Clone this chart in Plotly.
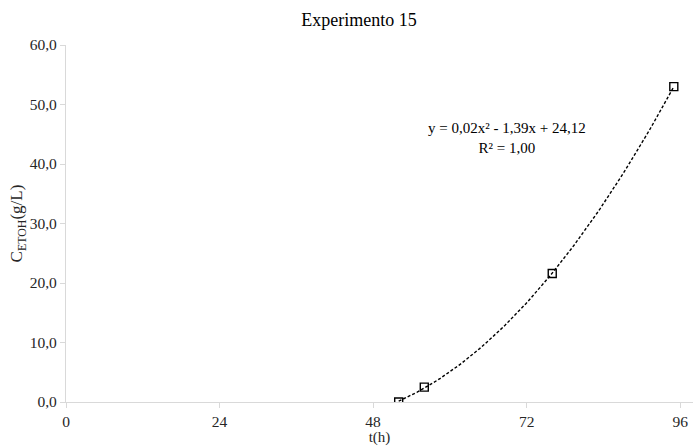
import numpy as np
import plotly.graph_objects as go

# Measured ethanol concentration over time
t_h = [52, 56, 76, 95]
c_etoh = [0.0, 2.5, 21.6, 53.0]

x_ticks = [0, 24, 48, 72, 96]
x_tick_text = ["0", "24", "48", "72", "96"]
y_ticks = [0, 10, 20, 30, 40, 50, 60]
y_tick_text = ["0,0", "10,0", "20,0", "30,0", "40,0", "50,0", "60,0"]

equation_text = "y = 0,02x² - 1,39x + 24,12<br>R² = 1,00"

# Second-order polynomial trendline through the measurements
coef = np.polyfit(t_h, c_etoh, 2)
t_fit = np.linspace(min(t_h), max(t_h), 120)
c_fit = np.polyval(coef, t_fit)

FONT = "Liberation Serif, Times New Roman, serif"
TEXT_COLOR = "#262626"

fig = go.Figure()
fig.add_trace(go.Scatter(
    x=t_fit, y=c_fit, mode="lines",
    line=dict(color="black", width=1.4, dash="3px,2px"),
    hoverinfo="skip", showlegend=False,
))
fig.add_trace(go.Scatter(
    x=t_h, y=c_etoh, mode="markers",
    marker=dict(symbol="square-open", size=8, color="black",
                line=dict(color="black", width=1.4)),
    showlegend=False,
))

# Trendline equation label
fig.add_annotation(
    x=0.703, y=0.739, xref="paper", yref="paper", text=equation_text,
    showarrow=False, font=dict(family=FONT, size=15, color="black"),
    align="center", xanchor="center", yanchor="middle",
)

fig.update_layout(
    template="none",
    width=697, height=446,
    margin=dict(l=66, r=4, t=45, b=44, pad=0),
    paper_bgcolor="white", plot_bgcolor="white",
    font=dict(family=FONT, size=15, color=TEXT_COLOR),
    title=dict(text="Experimento 15", x=0.515, xanchor="center",
               y=0.955, yanchor="middle",
               font=dict(family=FONT, size=18, color="black")),
    xaxis=dict(
        range=[0, 98], tickvals=x_ticks, ticktext=x_tick_text,
        showgrid=False, zeroline=False,
        showline=True, linecolor="#d9d9d9", linewidth=1.3,
        ticks="outside", ticklen=5, tickcolor="#d9d9d9",
        tickfont=dict(family=FONT, size=15.5, color=TEXT_COLOR),
        title=dict(text="t(h)", standoff=2,
                   font=dict(family=FONT, size=15, color=TEXT_COLOR)),
    ),
    yaxis=dict(
        range=[0, 60], tickvals=y_ticks, ticktext=y_tick_text,
        showgrid=False, zeroline=False,
        showline=True, linecolor="#d9d9d9", linewidth=1.3,
        ticks="outside", ticklen=5, tickcolor="#d9d9d9",
        tickfont=dict(family=FONT, size=15.5, color=TEXT_COLOR),
        title=dict(text="C<sub>ETOH</sub>(g/L)", standoff=2,
                   font=dict(family=FONT, size=17, color=TEXT_COLOR)),
    ),
)

fig.write_html("out.html")
